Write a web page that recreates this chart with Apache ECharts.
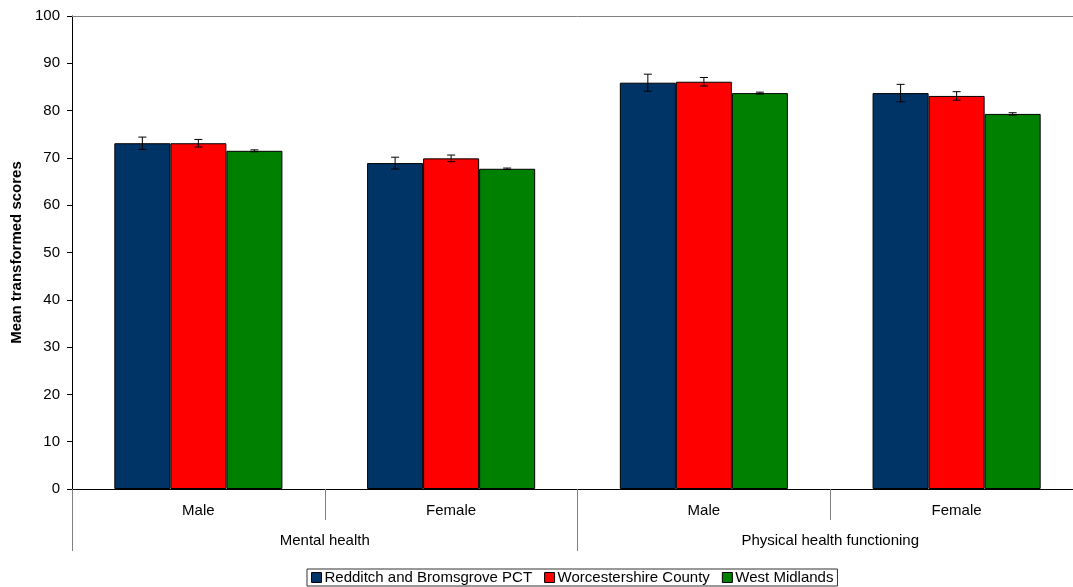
<!DOCTYPE html>
<html><head><meta charset="utf-8">
<script src="https://cdn.jsdelivr.net/npm/echarts@6/dist/echarts.min.js"></script>
<style>html,body{margin:0;padding:0;background:#fff;overflow:hidden;width:1073px;height:587px}#c{width:1083px;height:587px}</style>
</head><body><div id="c"></div>
<script>
const categories = ['Male', 'Female', 'Male', 'Female'];
const groups = ['Mental health', 'Physical health functioning'];
const seriesNames = ['Redditch and Bromsgrove PCT', 'Worcestershire County', 'West Midlands'];
const redditch = [73.1, 68.9, 85.9, 83.7];
const worcestershire = [73.1, 69.9, 86.1, 83.1];
const westMidlands = [71.5, 67.7, 83.7, 79.3];
const redditchErr = [1.3, 1.25, 1.8, 1.85];
const worcestershireErr = [0.8, 0.7, 0.9, 0.9];
const westMidlandsErr = [0.2, 0.15, 0.2, 0.25];
const yTicks = [0, 10, 20, 30, 40, 50, 60, 70, 80, 90, 100];

const colors = ['#003366', '#FF0000', '#008000'];
const values = [redditch, worcestershire, westMidlands];
const errs = [redditchErr, worcestershireErr, westMidlandsErr];
const GAP = 0.335;
const font = 'Liberation Sans, Arial, sans-serif';
const FS = 15;

const chart = echarts.init(document.getElementById('c'));
const series = [];
values.forEach((v, si) => {
  series.push({
    name: seriesNames[si], type: 'bar', data: v, xAxisIndex: 0, yAxisIndex: 0,
    barGap: '0%', barCategoryGap: (GAP * 100) + '%',
    itemStyle: { color: colors[si], borderColor: '#000', borderWidth: 1 },
    emphasis: { disabled: true }, animation: false
  });
});
values.forEach((v, si) => {
  series.push({
    type: 'custom', xAxisIndex: 0, yAxisIndex: 0, animation: false, silent: true, z: 10,
    data: v.map((val, i) => [i, val, errs[si][i]]),
    renderItem: function (params, api) {
      const ci = api.value(0), val = api.value(1), e = api.value(2);
      const band = api.size([1, 0])[0];
      const bw = band * (1 - GAP) / 3;
      const c = api.coord([ci, val]);
      const x = c[0] + (si - 1) * bw;
      const yt = api.coord([ci, val + e])[1];
      const yb = api.coord([ci, val - e])[1];
      const cap = 4;
      const st = { stroke: '#000', lineWidth: 1 };
      return { type: 'group', children: [
        { type: 'line', shape: { x1: x, y1: yt, x2: x, y2: yb }, style: st },
        { type: 'line', shape: { x1: x - cap, y1: yt, x2: x + cap, y2: yt }, style: st },
        { type: 'line', shape: { x1: x - cap, y1: yb, x2: x + cap, y2: yb }, style: st }
      ]};
    }
  });
});

chart.setOption({
  animation: false,
  grid: { left: 72, right: 0, top: 16, bottom: 98, containLabel: false },
  legend: {
    bottom: 1, left: 307, data: seriesNames,
    icon: 'rect', itemWidth: 10, itemHeight: 10, itemGap: 12,
    borderColor: '#333', borderWidth: 1, padding: [1, 4, 1, 4], borderRadius: 0,
    textStyle: { fontFamily: font, fontSize: FS, color: '#000', padding: [0, 0, 0, -2] },
    itemStyle: { borderColor: '#000', borderWidth: 1 }
  },
  xAxis: [
    { type: 'category', data: categories, position: 'bottom',
      axisLine: { show: true, lineStyle: { color: '#000', width: 1 } },
      axisTick: { show: true, interval: 0, length: 31, lineStyle: { color: '#808080' } },
      axisLabel: { interval: 0, margin: 14, fontFamily: font, fontSize: FS, color: '#000' },
      splitLine: { show: false } },
    { type: 'category', data: groups, position: 'bottom', gridIndex: 0,
      axisLine: { show: false },
      axisTick: { show: true, interval: 0, length: 62, lineStyle: { color: '#808080' } },
      axisLabel: { interval: 0, margin: 44, fontFamily: font, fontSize: FS, color: '#000' },
      splitLine: { show: false } },
    { type: 'category', data: categories, position: 'top',
      axisLine: { show: true, lineStyle: { color: '#808080', width: 1 } },
      axisTick: { show: false }, axisLabel: { show: false }, splitLine: { show: false } }
  ],
  yAxis: [{
    type: 'value', min: yTicks[0], max: yTicks[yTicks.length - 1], interval: 10,
    name: 'Mean transformed scores', nameLocation: 'middle', nameGap: 47, nameRotate: 90,
    nameTextStyle: { fontFamily: font, fontSize: FS, fontWeight: 'bold', color: '#000' },
    axisLine: { show: true, lineStyle: { color: '#000' } },
    axisTick: { show: true, length: 5, lineStyle: { color: '#000' } },
    axisLabel: { margin: 12, fontFamily: font, fontSize: FS, color: '#000' },
    splitLine: { show: false }
  }],
  graphic: [{ type: 'line', shape: { x1: 72.5, y1: 489, x2: 72.5, y2: 551 }, style: { stroke: '#000', lineWidth: 1 } }],
  series: series
});
</script></body></html>
